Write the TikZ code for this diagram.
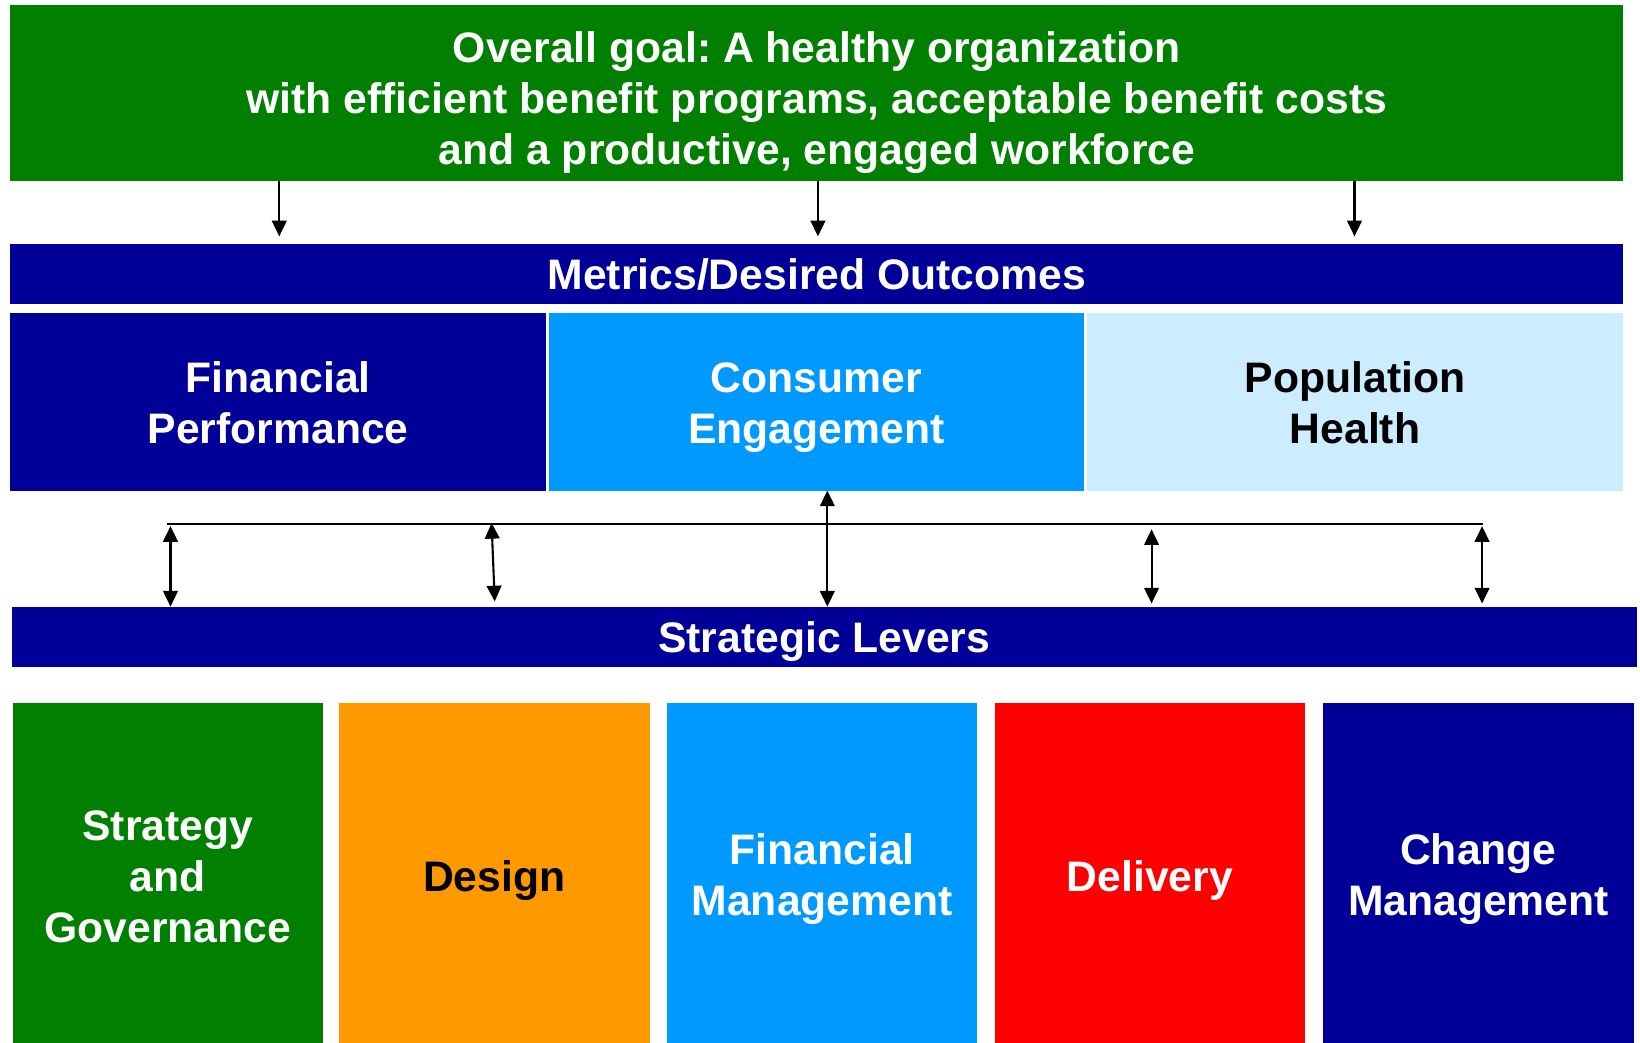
\documentclass[tikz,border=0pt]{standalone}
\usepackage{fontspec}
\setmainfont{Liberation Sans}
\frenchspacing
\usetikzlibrary{arrows.meta}
\definecolor{goalgreen}{HTML}{007F00}
\definecolor{navy}{HTML}{000099}
\definecolor{brightblue}{HTML}{0099FF}
\definecolor{paleblue}{HTML}{CCECFF}
\definecolor{leverorange}{HTML}{FF9900}
\definecolor{leverred}{HTML}{FF0000}
\begin{document}
\begin{tikzpicture}[x=0.5pt,y=-0.5pt,
  % text height above the last baseline sets where the text sits in its box
  box/.style={rectangle, inner sep=0pt, outer sep=0pt, align=center,
    font=\fontsize{20.4pt}{24.3pt}\selectfont\bfseries, text depth=0pt},
  bar/.style={box, fill=navy, text=white, minimum width=771pt, minimum height=29pt},
  outcome/.style={box, minimum width=256pt, minimum height=85pt, text height=40pt},
  lever/.style={box, minimum width=148.5pt, minimum height=166.5pt},
  oneline/.style={text height=14pt},
  twoline/.style={text height=36.5pt},
  link/.style={line width=1pt, -{Triangle[length=7.5pt,width=7pt]}},
  dlink/.style={line width=1pt, {Triangle[length=7.5pt,width=7pt]}-{Triangle[length=7.5pt,width=7pt]}}]
  \useasboundingbox (0,0) rectangle (1568,997);

  % overall goal
  \node[box, fill=goalgreen, text=white, minimum width=771pt, minimum height=84pt, text height=68pt] (goal) at (781,89)
    {Overall goal: A healthy organization\\with efficient benefit programs, acceptable benefit costs\\and a productive, engaged workforce};

  % metrics header and the three outcomes
  \node[bar, text height=14.7pt] (metrics) at (781,262) {Metrics/Desired Outcomes};
  \node[outcome, fill=navy, text=white] (finperf) at (266,384) {Financial\\Performance};
  \node[outcome, fill=brightblue, text=white, minimum width=255.5pt] (consumer) at (780.5,384) {Consumer\\Engagement};
  \node[outcome, fill=paleblue, text=black, minimum width=256.5pt] (population) at (1295.5,384) {Population\\Health};

  % strategic levers header and the five levers
  \node[bar, minimum width=777pt, text height=15pt] (levers) at (788,609) {Strategic Levers};
  \node[lever, fill=goalgreen, text=white, text height=62.5pt] (strategy) at (160.5,838.5) {Strategy\\and\\Governance};
  \node[lever, oneline, fill=leverorange, text=black] (design) at (472.5,838.5) {Design};
  \node[lever, twoline, fill=brightblue, text=white, minimum width=148pt] (finmgmt) at (786,838.5) {Financial\\Management};
  \node[lever, oneline, fill=leverred, text=white] (delivery) at (1099.5,838.5) {Delivery};
  \node[lever, twoline, fill=navy, text=white] (change) at (1413.5,838.5) {Change\\Management};

  % goal feeds the metrics
  \coordinate (d1) at (267,226);
  \coordinate (d2) at (782,226);
  \coordinate (d3) at (1295,226);
  \draw[link] (goal.south -| d1) -- (d1);
  \draw[link] (goal.south -| d2) -- (d2);
  \draw[link] (goal.south -| d3) -- (d3);

  % bus between outcomes and levers
  \coordinate (busL) at (160,501);
  \coordinate (busR) at (1418,501);
  \draw[line width=1pt] (busL) -- (busR);

  \coordinate (b1) at (163,503);
  \coordinate (b2) at (470,500);
  \coordinate (b2e) at (473,575);
  \coordinate (b4) at (1101,506);
  \coordinate (b4e) at (1101,577);
  \coordinate (b5) at (1417,503);
  \coordinate (b5e) at (1417,577);
  \coordinate (b3) at (791,471);
  \draw[dlink] (b1) -- (levers.north -| b1);
  \draw[dlink] (b2) -- (b2e);
  \draw[dlink] (consumer.south -| b3) -- (levers.north -| b3);
  \draw[dlink] (b4) -- (b4e);
  \draw[dlink] (b5) -- (b5e);
\end{tikzpicture}
\end{document}
